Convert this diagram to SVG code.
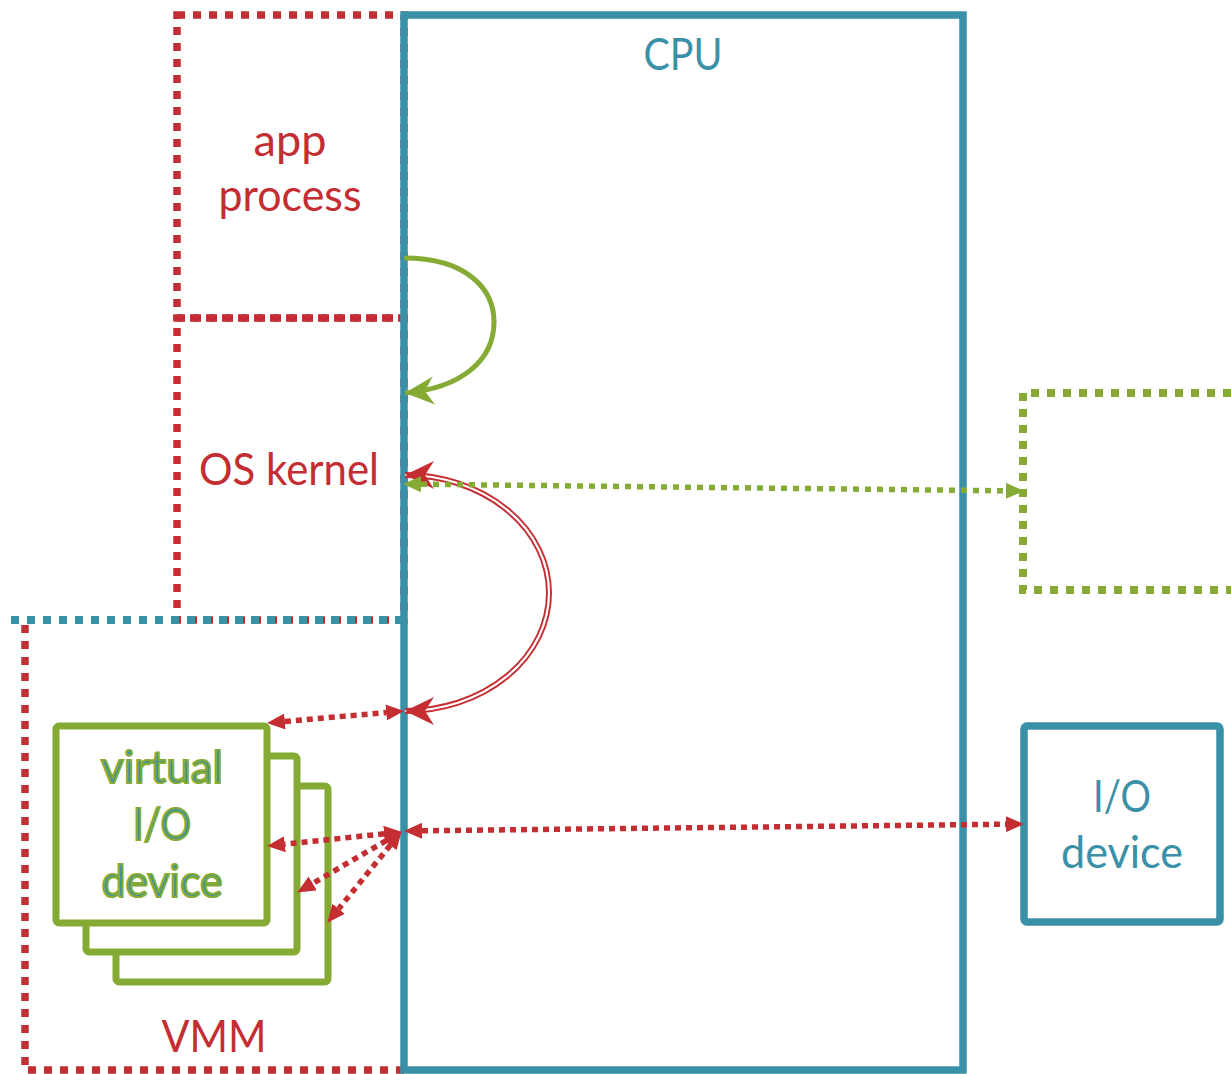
<svg xmlns="http://www.w3.org/2000/svg" width="1231" height="1074" viewBox="0 0 1231 1074">
<style>
  .lbl { font-family: Lato, "Open Sans", "Liberation Sans", sans-serif; font-size: 45px; text-anchor: middle; }
  .red { fill: #c42d32; }
  .teal { fill: #3a91a7; }
  .vtext { fill: #3a91a7; stroke: #86ab35; stroke-width: 2.2px; }
  .rdot { fill: none; stroke: #c42d32; stroke-width: 7.5; stroke-dasharray: 8 8; }
  .gdot { fill: none; stroke: #86ab35; stroke-width: 8; stroke-dasharray: 8 8; }
  .tdot { fill: none; stroke: #3a91a7; stroke-width: 8; stroke-dasharray: 8 8; }
  .solidT { fill: #fff; stroke: #3a91a7; stroke-width: 7.5; }
  .solidG { fill: #fff; stroke: #86ab35; stroke-width: 7; }
  .rarrow { fill: none; stroke: #c42d32; stroke-width: 5.5; stroke-dasharray: 6 5; marker-start: url(#triR); marker-end: url(#triR); }
  .garrow { fill: none; stroke: #86ab35; stroke-width: 5.5; stroke-dasharray: 6 6; marker-start: url(#triG); marker-end: url(#triG); }
</style>
<defs>
  <marker id="triR" markerUnits="userSpaceOnUse" viewBox="0 0 18 16" refX="0" refY="8" markerWidth="18" markerHeight="16" orient="auto-start-reverse">
    <path d="M0,0 L18,8 L0,16 z" fill="#c42d32"/>
  </marker>
  <marker id="triG" markerUnits="userSpaceOnUse" viewBox="0 0 18 16" refX="0" refY="8" markerWidth="18" markerHeight="16" orient="auto-start-reverse">
    <path d="M0,0 L18,8 L0,16 z" fill="#86ab35"/>
  </marker>
  <marker id="stealthR" markerUnits="userSpaceOnUse" viewBox="-30 -15 32 30" refX="0" refY="0" markerWidth="32" markerHeight="30" orient="auto-start-reverse">
    <path d="M0,0 L-29,-14 L-20,0 L-29,14 z" fill="#c42d32"/>
  </marker>
  <marker id="stealthG" markerUnits="userSpaceOnUse" viewBox="-30 -15 32 30" refX="0" refY="0" markerWidth="32" markerHeight="30" orient="auto">
    <path d="M0,0 L-29,-14 L-20,0 L-29,14 z" fill="#86ab35"/>
  </marker>
</defs>

<g id="app-process">
  <rect class="rdot" x="177" y="15" width="227" height="303"/>
  <text class="lbl red" x="290" y="156">app</text>
  <text class="lbl red" x="290" y="211" textLength="143" lengthAdjust="spacingAndGlyphs">process</text>
</g>

<g id="os-kernel">
  <rect class="rdot" x="177" y="318" width="227" height="302"/>
  <text class="lbl red" x="289" y="485" textLength="180" lengthAdjust="spacingAndGlyphs">OS kernel</text>
</g>

<g id="vmm">
  <path class="rdot" d="M404,1070 L25,1070 L25,624"/>
  <line class="tdot" x1="11" y1="620" x2="404" y2="620"/>
  <text class="lbl red" x="214" y="1052" textLength="105" lengthAdjust="spacingAndGlyphs">VMM</text>
</g>

<g id="other-vm">
  <path class="gdot" d="M1231,393 L1023,393 L1023,590 L1231,590"/>
</g>

<g id="cpu">
  <rect x="404" y="15" width="559" height="1055" fill="none" stroke="#3a91a7" stroke-width="7.5"/>
  <text class="lbl teal" x="683" y="70" textLength="79" lengthAdjust="spacingAndGlyphs">CPU</text>
</g>

<g id="virtual-io-device">
  <rect class="solidG" x="116" y="786" width="212" height="196" rx="3"/>
  <rect class="solidG" x="86" y="756" width="211" height="196" rx="3"/>
  <rect class="solidG" x="56" y="726" width="211" height="197" rx="3"/>
  <text class="lbl vtext" x="162" y="783" textLength="122" lengthAdjust="spacingAndGlyphs">virtual</text>
  <text class="lbl vtext" x="162" y="840" textLength="58" lengthAdjust="spacingAndGlyphs">I/O</text>
  <text class="lbl vtext" x="162" y="897" textLength="121" lengthAdjust="spacingAndGlyphs">device</text>
</g>

<g id="io-device">
  <rect class="solidT" x="1024" y="726" width="196" height="196" rx="3"/>
  <text class="lbl teal" x="1122" y="812" textLength="58" lengthAdjust="spacingAndGlyphs">I/O</text>
  <text class="lbl teal" x="1122" y="868" textLength="122" lengthAdjust="spacingAndGlyphs">device</text>
</g>

<g id="connectors">
  <path d="M404,258 C468,258 494,290 494,322 C494,360 462,388 405,393" fill="none" stroke="#86ab35" stroke-width="5" marker-end="url(#stealthG)"/>
  <path d="M405,475 A144,118 0 0 1 405,711" fill="none" stroke="#c42d32" stroke-width="6"/>
  <path d="M405,475 A144,118 0 0 1 405,711" fill="none" stroke="#fff" stroke-width="2.2"/>
  <path d="M405,475 A144,118 0 0 1 405,711" fill="none" stroke="none" marker-start="url(#stealthR)" marker-end="url(#stealthR)"/>
  <path class="garrow" d="M421,484.2 L1006,490.8"/>
  <path class="rarrow" d="M284.9,721.5 L386.1,712.5"/>
  <path class="rarrow" d="M422,830.8 L1006,824.2"/>
  <path class="rarrow" d="M384.1,833.8 L284.9,844.2"/>
  <path class="rarrow" d="M386.3,840.6 L312.7,883.4"/>
  <path class="rarrow" d="M390.3,845.2 L338.7,908.8"/>
</g>
</svg>
